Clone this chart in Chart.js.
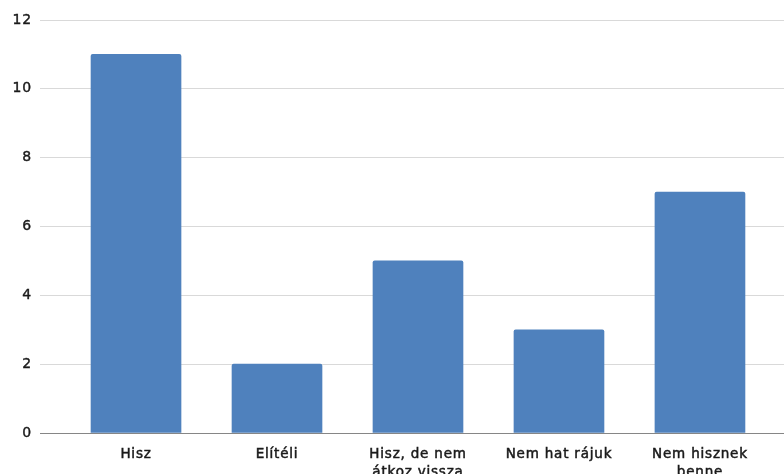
<!DOCTYPE html>
<html>
<head>
<meta charset="utf-8">
<script src="https://cdn.jsdelivr.net/npm/chart.js@4/dist/chart.umd.min.js"></script>
<style>
  html, body { margin: 0; padding: 0; background: #ffffff; }
  #wrap { width: 784px; height: 474px; position: relative; }
</style>
</head>
<body>
<div id="wrap"><canvas id="c" width="784" height="474"></canvas></div>
<script>
// Category labels (multi-line where the label wraps)
const categories = [
  ['Hisz'],
  ['Elítéli'],
  ['Hisz, de nem', 'átkoz vissza'],
  ['Nem hat rájuk'],
  ['Nem hisznek', 'benne']
];
// Number of answers per category
const counts = [11, 2, 5, 3, 7];
// Value axis ticks
const yTicks = [0, 2, 4, 6, 8, 10, 12];

const barColor = '#4F81BD';
const gridColor = '#d9d9d9';
const axisColor = '#868686';
const textColor = '#1a1a1a';

// Slight tracking for the text, as in the spreadsheet-style rendering
const letterSpacingPlugin = {
  id: 'letterSpacing',
  beforeDraw(chart) { chart.ctx.letterSpacing = '0.8px'; }
};

new Chart(document.getElementById('c'), {
  type: 'bar',
  data: {
    datasets: [{
      data: counts.map((v, i) => ({ x: i, y: v })),
      backgroundColor: barColor,
      borderWidth: 0,
      borderRadius: 2,
      borderSkipped: 'bottom',
      barThickness: 90
    }]
  },
  plugins: [letterSpacingPlugin],
  options: {
    responsive: false,
    animation: false,
    devicePixelRatio: 1,
    layout: { padding: { top: 20, right: 0, bottom: 0, left: 0 } },
    plugins: {
      legend: { display: false },
      tooltip: { enabled: false }
    },
    scales: {
      x: {
        type: 'linear',
        offset: false,
        min: -0.681,
        max: 4.596,
        afterBuildTicks(scale) {
          scale.ticks = categories.map((_, i) => ({ value: i }));
        },
        afterFit(scale) { scale.height = 41; },
        grid: { display: false },
        border: { display: true, color: axisColor, width: 1 },
        ticks: {
          autoSkip: false,
          maxRotation: 0,
          padding: 4,
          color: textColor,
          textStrokeColor: textColor,
          textStrokeWidth: 0.5,
          font: { family: 'DejaVu Sans', size: 13.5, lineHeight: 1.35 },
          callback: (value) => categories[value]
        }
      },
      y: {
        min: 0,
        max: 12,
        afterBuildTicks(scale) {
          scale.ticks = yTicks.map(v => ({ value: v }));
        },
        afterFit(scale) { scale.width = 40; },
        border: { display: false },
        grid: {
          drawTicks: false,
          color: (ctx) => (ctx.tick && ctx.tick.value === 0 ? axisColor : gridColor),
          lineWidth: 1
        },
        ticks: {
          padding: 8,
          color: textColor,
          textStrokeColor: textColor,
          textStrokeWidth: 0.4,
          font: { family: 'DejaVu Sans', size: 14 }
        }
      }
    }
  }
});
</script>
</body>
</html>
